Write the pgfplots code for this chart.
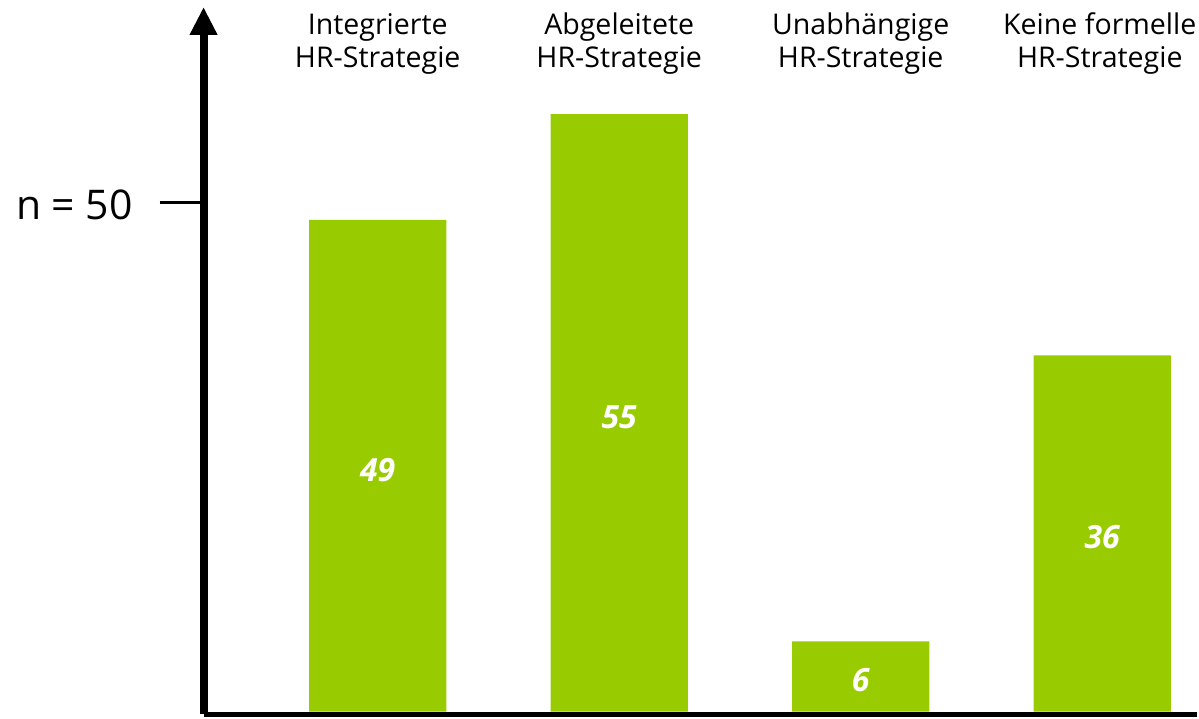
\documentclass[border=0pt]{standalone}
\usepackage{pgfplots}
\pgfplotsset{compat=1.18}
\usepackage{pgfplotstable}
\usepackage{fontspec}
\setmainfont{Open Sans}
\usetikzlibrary{arrows.meta}
\definecolor{bargreen}{RGB}{153,204,0}

\pgfplotstableread{
x h lab
1 48.3 49
2 58.7 55
3 6.9 6
4 35.0 36
}\datatable

\begin{document}
\begin{tikzpicture}
\begin{axis}[
 scale only axis, width=497.5pt, height=354.25pt,
 xmin=0.2789, xmax=4.3905, ymin=-0.245, ymax=69.22,
 axis x line=bottom, axis y line=left,
 x axis line style={line width=2.5pt, -},
 y axis line style={line width=4pt, -{Triangle[width=13pt,length=14pt]}},
 xtick=\empty,
 ytick={50}, yticklabels={n = 50},
 tick align=outside, major tick length=22pt,
 major tick style={line width=1.75pt, black},
 yticklabel style={font=\fontsize{20.5}{24}\selectfont, anchor=east, xshift=-10pt, yshift=-1pt},
 clip=false,
]
\addplot[ybar, bar width=0.568, fill=bargreen, draw=none] table[x=x,y=h]{\datatable};
\addplot[draw=none, mark=none, nodes near coords, point meta=explicit symbolic,
 every node near coord/.style={anchor=center, yshift=-2pt, text=white, font=\fontsize{16}{19}\selectfont\bfseries\itshape}]
 table[x=x, y expr=\thisrow{h}/2, meta=lab]{\datatable};
\begin{scope}[every node/.style={anchor=base, inner sep=0pt, font=\fontsize{14.3}{17}\selectfont}]
\node at (axis cs:1,66.47) {Integrierte};
\node at (axis cs:1,63.24) {HR-Strategie};
\node at (axis cs:2,66.47) {Abgeleitete};
\node at (axis cs:2,63.24) {HR-Strategie};
\node at (axis cs:3,66.47) {Unabhängige};
\node at (axis cs:3,63.24) {HR-Strategie};
\node at (axis cs:3.99,66.47) {Keine formelle};
\node at (axis cs:3.99,63.24) {HR-Strategie};
\end{scope}
\end{axis}
\path (current axis.south west) ++(-102pt,-1.75pt) rectangle ++(599.5pt,359.5pt);
\end{tikzpicture}
\end{document}
